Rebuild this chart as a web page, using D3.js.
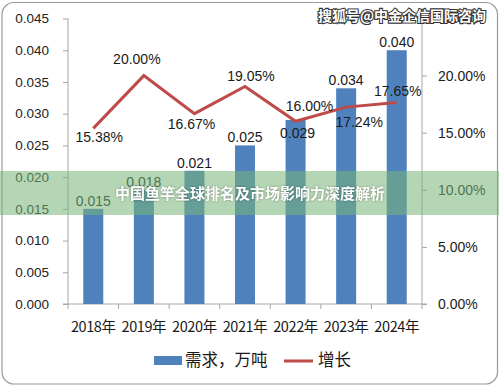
<!DOCTYPE html>
<html><head><meta charset="utf-8">
<script src="https://cdn.jsdelivr.net/npm/d3@7"></script>
<style>body{margin:0;background:#fff}svg{display:block}</style>
</head><body>
<svg id="c" width="499" height="386"></svg>
<script>
const categories = ["2018年","2019年","2020年","2021年","2022年","2023年","2024年"];
const demand = [0.015,0.018,0.021,0.025,0.029,0.034,0.040];
const growth = [15.38,20.00,16.67,19.05,16.00,17.24,17.65];
const leftTicks = [0,0.005,0.010,0.015,0.020,0.025,0.030,0.035,0.040,0.045];
const rightTicks = [0,5,10,15,20,25];
const seriesNames = ["需求，万吨","增长"];

const svg = d3.select("#c");
const font = "'Liberation Sans', Arial, sans-serif";
const cjk = "'Noto Sans CJK SC', sans-serif";
const L = 68, R = 422, T = 18.5, B = 304;

svg.append("rect").attr("x",2).attr("y",2.5).attr("width",495.5).attr("height",381.5)
  .attr("rx",12).attr("fill","#fff").attr("stroke","#9a9a9a").attr("stroke-width",1.2);

const x = d3.scaleBand().domain(categories).range([L,R]);
const yL = d3.scaleLinear().domain([0,0.045]).range([B,T]);
const yR = d3.scaleLinear().domain([0,25]).range([B,T]);

// axes
const axL = d3.axisLeft(yL).tickValues(leftTicks).tickFormat(d3.format(".3f")).tickSize(5).tickPadding(14);
const axR = d3.axisRight(yR).tickValues(rightTicks).tickFormat(d=>d.toFixed(2)+"%").tickSize(5).tickPadding(11);
const gL = svg.append("g").attr("transform",`translate(${L},0)`).call(axL);
const gR = svg.append("g").attr("transform",`translate(${R},0)`).call(axR);
[gL,gR].forEach(g=>{
  g.select(".domain").attr("stroke","#a6a6a6").attr("d",`M0,${B}V${T}`);
  g.selectAll(".tick line").attr("stroke","#a6a6a6");
  g.selectAll("text").attr("font-family",font).attr("font-size",13.5).attr("fill","#222");
});
gR.selectAll("text").attr("font-size",14);

// bottom axis
const gB = svg.append("g").attr("transform",`translate(0,${B})`);
gB.append("line").attr("x1",L-5).attr("x2",R+5).attr("stroke","#a6a6a6");
d3.range(categories.length+1).forEach(i=>{
  const xx = L + i*x.step();
  gB.append("line").attr("x1",xx).attr("x2",xx).attr("y1",0).attr("y2",5).attr("stroke","#a6a6a6");
});
gB.selectAll("text.cat").data(categories).join("text")
  .attr("x",d=>x(d)+x.bandwidth()/2).attr("y",28).attr("text-anchor","middle")
  .attr("font-family",cjk).attr("font-size",14.5).attr("fill","#1a1a1a").attr("letter-spacing",-0.4).text(d=>d);

// bars
const bw = 20;
svg.selectAll("rect.bar").data(demand).join("rect")
  .attr("x",(d,i)=>x(categories[i])+x.bandwidth()/2-bw/2)
  .attr("y",d=>yL(d)).attr("width",bw).attr("height",d=>B-yL(d)).attr("fill","#4f81bd");

// bar labels
const barDy = [-3,-3,-3,-3,18,-3,-3];
svg.selectAll("text.bl").data(demand).join("text")
  .attr("x",(d,i)=>x(categories[i])+x.bandwidth()/2 + (i===4?2:0))
  .attr("y",(d,i)=>yL(d)+barDy[i]).attr("text-anchor","middle")
  .attr("font-family",font).attr("font-size",14).attr("fill","#1a1a1a").text(d=>d.toFixed(3));

// line
const cx = i => x(categories[i])+x.bandwidth()/2;
const line = d3.line().x((d,i)=>cx(i)).y(d=>yR(d));
svg.append("path").attr("d",line(growth)).attr("fill","none").attr("stroke","#be4b48").attr("stroke-width",3);

// line labels (dx, dy of baseline relative to point)
const lblOff = [[6,14],[-7,-12],[-3,15],[6,-5],[14,-10],[13,20],[1,-6]];
svg.selectAll("text.ll").data(growth).join("text")
  .attr("x",(d,i)=>cx(i)+lblOff[i][0]).attr("y",(d,i)=>yR(d)+lblOff[i][1])
  .attr("text-anchor","middle").attr("font-family",font).attr("font-size",14).attr("fill","#1a1a1a")
  .text(d=>d.toFixed(2)+"%");

// legend
const lg = svg.append("g");
lg.append("rect").attr("x",154).attr("y",356).attr("width",28).attr("height",9).attr("fill","#4f81bd");
lg.append("text").attr("x",185).attr("y",366).attr("font-family",cjk).attr("font-size",16.5).attr("fill","#1a1a1a").text(seriesNames[0]);
lg.append("line").attr("x1",284).attr("x2",313).attr("y1",361).attr("y2",361).attr("stroke","#be4b48").attr("stroke-width",3);
lg.append("text").attr("x",318).attr("y",366).attr("font-family",cjk).attr("font-size",16.5).attr("fill","#1a1a1a").text(seriesNames[1]);

// watermark
svg.append("text").attr("x",486).attr("y",21).attr("text-anchor","end")
  .attr("font-family",cjk).attr("font-size",14).attr("font-weight","bold")
  .attr("fill","#fff").attr("stroke","#333").attr("stroke-width",2.2).attr("paint-order","stroke")
  .text("搜狐号@中金企信国际咨询");

// banner
svg.append("rect").attr("x",0).attr("y",171).attr("width",499).attr("height",44).attr("fill","rgba(120,180,120,0.55)");
svg.append("text").attr("x",250).attr("y",199).attr("text-anchor","middle")
  .attr("font-family",cjk).attr("font-size",15).attr("font-weight","bold").attr("fill","#fff")
  .style("filter","drop-shadow(0px 0px 1px rgba(0,0,0,0.35))")
  .text("中国鱼竿全球排名及市场影响力深度解析");
</script>
</body></html>
